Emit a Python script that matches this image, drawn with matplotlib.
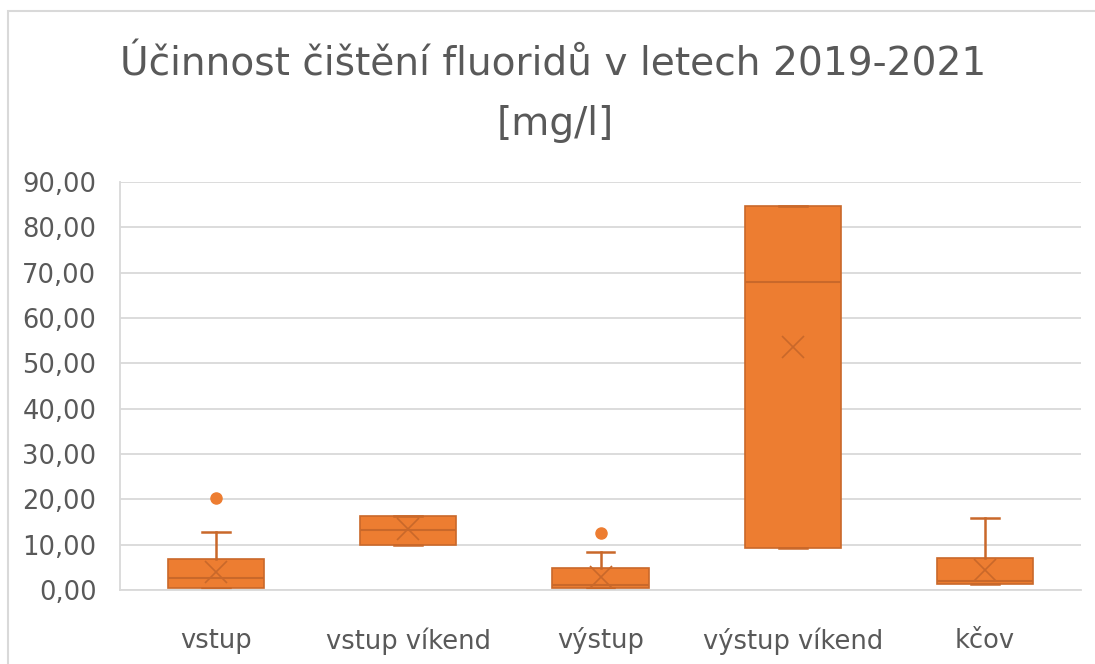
import matplotlib
matplotlib.use("Agg")
import matplotlib.pyplot as plt
from matplotlib.patches import Rectangle
from matplotlib.ticker import FuncFormatter

# data
categories = ["vstup", "vstup víkend", "výstup", "výstup víkend", "kčov"]
q1 = [0.45, 9.9, 0.45, 9.3, 1.25]
median = [2.65, 13.2, 1.1, 68.0, 2.0]
q3 = [6.85, 16.4, 4.8, 84.6, 7.1]
whisker_low = [0.45, 9.9, 0.45, 9.3, 1.25]
whisker_high = [12.9, 16.4, 8.3, 84.6, 15.8]
means = [4.0, 13.4, 2.9, 53.7, 4.4]
outliers = [[20.3], [], [12.6], [], []]

ORANGE = "#ED7D31"
DARK = "#C9682A"
GRID = "#D9D9D9"
TXT = "#595959"

stats = []
for i, name in enumerate(categories):
    stats.append(dict(label=name, q1=q1[i], med=median[i], q3=q3[i],
                      whislo=whisker_low[i], whishi=whisker_high[i],
                      mean=means[i], fliers=outliers[i]))

fig = plt.figure(figsize=(10.95, 6.64), dpi=100, facecolor="white")
ax = fig.add_axes([120 / 1095, 1 - 590 / 664, (1081 - 120) / 1095, (590 - 182) / 664])

ax.bxp(stats, positions=range(1, len(categories) + 1), widths=0.5,
       capwidths=0.145, patch_artist=True, showmeans=True, showfliers=True,
       boxprops=dict(facecolor=ORANGE, edgecolor=DARK, linewidth=1.2),
       medianprops=dict(color=DARK, linewidth=1.5),
       whiskerprops=dict(color=DARK, linewidth=1.8),
       capprops=dict(color=DARK, linewidth=1.8),
       meanprops=dict(marker="x", markeredgecolor=DARK, markersize=16,
                      markeredgewidth=1.2),
       flierprops=dict(marker="o", markerfacecolor=ORANGE, markeredgecolor=ORANGE,
                       markersize=8))

ax.set_xlim(0.5, len(categories) + 0.5)
ax.set_ylim(0, 90)
ax.set_yticks(range(0, 91, 10))
ax.yaxis.set_major_formatter(FuncFormatter(lambda v, p: f"{v:.2f}".replace(".", ",")))
ax.set_xticks(range(1, len(categories) + 1))
ax.set_xticklabels(categories)
ax.grid(axis="y", color=GRID, linewidth=1.3)
ax.set_axisbelow(True)
ax.tick_params(axis="both", length=0, labelsize=18.5, colors=TXT)
ax.tick_params(axis="x", pad=27)
ax.tick_params(axis="y", pad=17)
for s in ["top", "right"]:
    ax.spines[s].set_visible(False)
for s in ["left", "bottom"]:
    ax.spines[s].set_color(GRID)
    ax.spines[s].set_linewidth(1.3)

fig.text(553 / 1095, 1 - 65 / 664, "Účinnost čištění fluoridů v letech 2019-2021",
         ha="center", va="center", fontsize=28.2, color=TXT)
fig.text(555 / 1095, 1 - 124 / 664, "[mg/l]", ha="center", va="center",
         fontsize=28.2, color=TXT)

fig.patches.append(Rectangle((8 / 1095, -0.1), 1.2, 1.1 - 11 / 664,
                             transform=fig.transFigure, fill=False,
                             edgecolor=GRID, linewidth=1.5))

fig.savefig("out.png", dpi=100, facecolor="white")
